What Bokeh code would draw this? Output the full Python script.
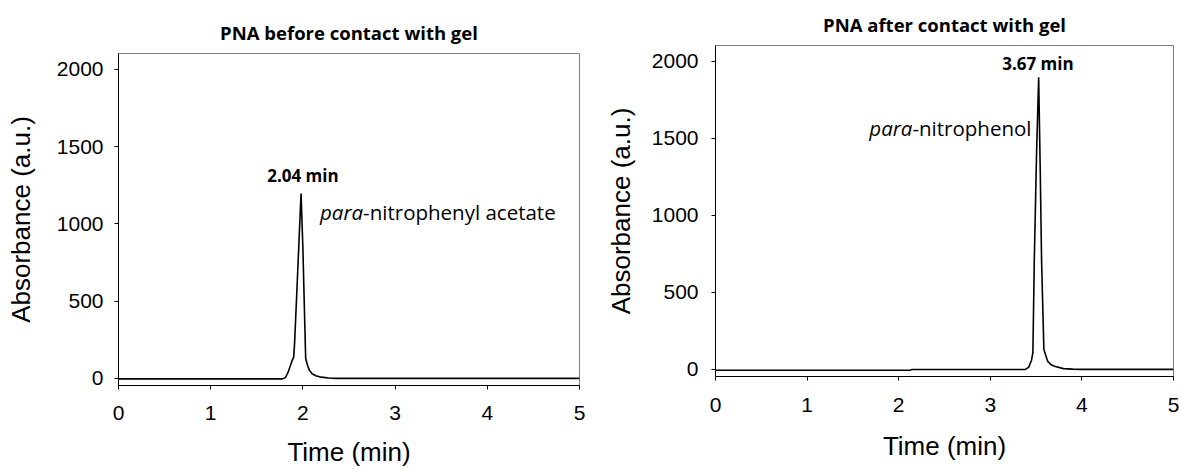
from bokeh.plotting import figure
from bokeh.layouts import row, column
from bokeh.models import Range1d, FixedTicker, Label, Title
from bokeh.embed import file_html
from bokeh.resources import INLINE

# ---- data ----
time_before = [0.0, 0.5, 1.0, 1.5, 1.78, 1.81, 1.84, 1.86, 1.88, 1.90, 1.91, 1.94, 1.96, 1.98,
               2.00, 2.02, 2.03, 2.05, 2.07, 2.10, 2.14, 2.20, 2.28, 2.35, 2.5, 3.0, 3.5, 4.0, 4.5, 5.0]
abs_before = [-3, -3, -3, -3, -3, 5, 40, 75, 110, 138, 230, 640, 920, 1197,
              840, 360, 130, 85, 52, 30, 17, 8, 3, 0, 0, 0, 0, 0, 0, 0]

time_after = [0.0, 0.5, 1.0, 1.5, 2.0, 2.13, 2.14, 2.5, 3.0, 3.38, 3.42, 3.45, 3.465, 3.48, 3.505,
              3.528, 3.545, 3.56, 3.585, 3.625, 3.66, 3.70, 3.80, 3.90, 4.0, 4.5, 5.0]
abs_after = [-5, -5, -5, -5, -5, -5, -1, -1, -1, -1, 15, 60, 110, 700, 1400,
             1896, 1300, 700, 130, 54, 32, 20, 5, 2, 0, 0, 0]

titles = ["PNA before contact with gel", "PNA after contact with gel"]
peak_labels = ["2.04 min", "3.67 min"]
compound_italic = ["para", "para"]
compound_rest = ["-nitrophenyl acetate", "-nitrophenol"]
x_ticks = [0, 1, 2, 3, 4, 5]
y_ticks = [0, 500, 1000, 1500, 2000]
x_label = "Time (min)"
y_label = "Absorbance (a.u.)"

TICK_FONT = "Liberation Sans"
TEXT_FONT = "Open Sans"
Y_MIN, Y_MAX = -46, 2103


def make_fig(width, min_left, min_right, min_top, min_bottom, title, title_standoff,
             xl_standoff, xlab_standoff, yl_standoff, ylab_standoff):
    p = figure(width=width, height=469, output_backend="svg", toolbar_location=None,
               x_range=Range1d(0, 5), y_range=Range1d(Y_MIN, Y_MAX),
               min_border_left=min_left, min_border_right=min_right,
               min_border_top=min_top, min_border_bottom=min_bottom)
    p.background_fill_color = "white"
    p.border_fill_color = "white"
    p.outline_line_color = "#7f7f7f"
    p.outline_line_width = 1
    p.xgrid.visible = False
    p.ygrid.visible = False

    p.add_layout(Title(text=title, align="center", vertical_align="top",
                       text_font=TEXT_FONT, text_font_size="18.5px",
                       text_font_style="bold", text_color="black", standoff=title_standoff),
                 "above")

    for ax in (p.xaxis[0], p.yaxis[0]):
        ax.axis_line_color = "black"
        ax.axis_line_width = 1
        ax.major_tick_line_color = "black"
        ax.major_tick_out = 4
        ax.major_tick_in = 0
        ax.minor_tick_line_color = None
        ax.major_label_text_font = TICK_FONT
        ax.major_label_text_font_size = "21px"
        ax.major_label_text_color = "black"
        ax.axis_label_text_font = TICK_FONT
        ax.axis_label_text_font_size = "26px"
        ax.axis_label_text_font_style = "normal"
        ax.axis_label_text_color = "black"
    p.xaxis[0].ticker = FixedTicker(ticks=x_ticks)
    p.yaxis[0].ticker = FixedTicker(ticks=y_ticks)
    p.xaxis[0].axis_label = x_label
    p.yaxis[0].axis_label = y_label
    p.xaxis[0].major_label_standoff = xl_standoff
    p.xaxis[0].axis_label_standoff = xlab_standoff
    p.yaxis[0].major_label_standoff = yl_standoff
    p.yaxis[0].axis_label_standoff = ylab_standoff
    return p


def add_texts(p, peak_text, px, py, it_text, rest_text, bx, by):
    p.add_layout(Label(x=px, y=py, text=peak_text, text_align="center", text_baseline="middle",
                       text_font=TEXT_FONT, text_font_size="17px", text_font_style="bold",
                       text_color="black"))
    p.add_layout(Label(x=bx, y=by, text=it_text, text_align="right", text_baseline="middle",
                       text_font=TEXT_FONT, text_font_size="20.5px", text_font_style="italic",
                       text_color="black"))
    p.add_layout(Label(x=bx, y=by, text=rest_text, text_align="left", text_baseline="middle",
                       text_font=TEXT_FONT, text_font_size="20.5px", text_font_style="normal",
                       text_color="black"))


p1 = make_fig(602, 118, 23, 53, 84, titles[0], 14, 16, 14, 11, 18)
p1.line(time_before, abs_before, line_color="black", line_width=1.6)
add_texts(p1, peak_labels[0], 2.00, 1315, compound_italic[0], compound_rest[0], 2.653, 1077)

p2 = make_fig(577, 110, 6, 45, 93, titles[1], 14, 17, 16, 13, 13)
p2.line(time_after, abs_after, line_color="black", line_width=1.6)
add_texts(p2, peak_labels[1], 3.52, 1987, compound_italic[1], compound_rest[1], 2.15, 1566)

layout = row(column(p1), column(p2), spacing=0)

open("out.html", "w").write(file_html(layout, INLINE))
